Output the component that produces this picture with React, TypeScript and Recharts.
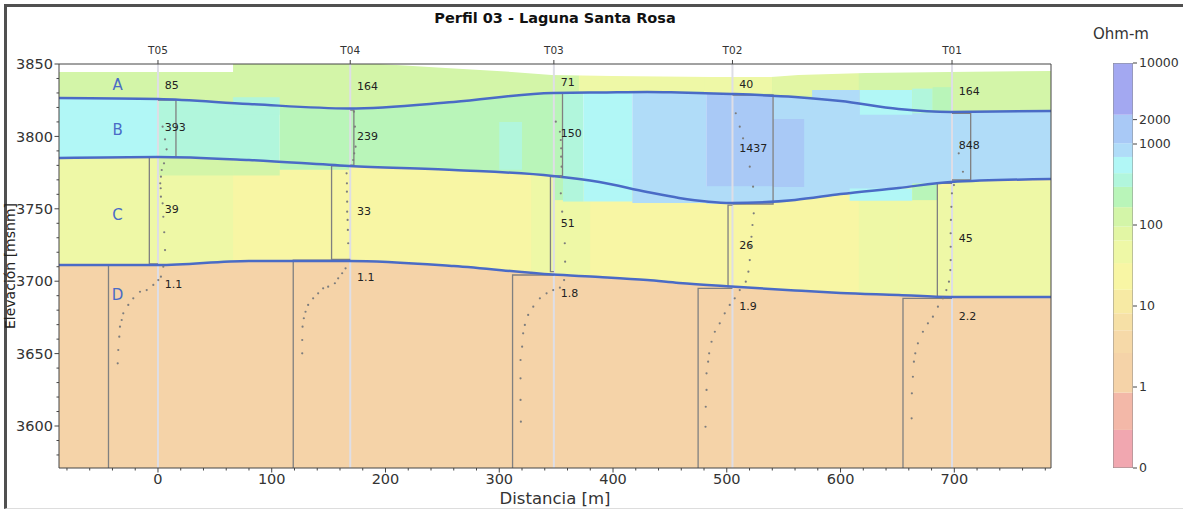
import { Area, ComposedChart, Line, ReferenceLine, Scatter, XAxis, YAxis } from "recharts";

const FONT = "'DejaVu Sans', sans-serif";
const INK = "#333";
const SPINE = "#444";
const BLUE = "#4a6bc6";

const X_MIN = -87;
const X_MAX = 785;
const Z_MIN = 3571;
const Z_MAX = 3850;

// soundings along the profile
const SOUNDINGS = ["T05", "T04", "T03", "T02", "T01"];
const SOUNDING_X = [0, 169, 348, 505, 698];

// layer resistivities (Ohm-m) per sounding
const RHO_A = [85, 164, 71, 40, 164];
const RHO_B = [393, 239, 150, 1437, 848];
const RHO_C = [39, 33, 51, 26, 45];
const RHO_D = [1.1, 1.1, 1.8, 1.9, 2.2];
const LABEL_Z_A = [3835.5, 3834.8, 3837.6, 3836.2, 3831.4];
const LABEL_Z_B = [3806.5, 3800, 3802.3, 3792, 3794.1];
const LABEL_Z_C = [3749.9, 3748.5, 3740.2, 3725, 3729.8];
const LABEL_Z_D = [3698.1, 3702.9, 3691.8, 3682.9, 3675.9];

const LAYERS = ["A", "B", "C", "D"];
const LAYER_Z = [3836, 3804.4, 3745.7, 3690.5];

// interpreted interfaces (elevation, m)
const DIST = [-87, 0, 80, 168, 260, 347, 388, 430, 458, 504, 560, 600, 651, 697, 785];
const Z_AB = [3826.5, 3825.8, 3822.4, 3819.3, 3823.8, 3830.0, 3830.3, 3830.7, 3830.3, 3829.3, 3827.2, 3824.4, 3818.9, 3816.9, 3817.5];
const Z_BC = [3785.1, 3785.8, 3783.7, 3779.6, 3776.8, 3772.7, 3768.5, 3761.6, 3757.5, 3754.0, 3756.1, 3760.2, 3764.4, 3768.5, 3770.6];
const Z_CD = [3711.2, 3711.2, 3714.0, 3714.0, 3710.5, 3704.6, 3702.9, 3700.8, 3698.8, 3696.3, 3693.6, 3691.9, 3690.5, 3689.1, 3689.1];

// ground surface
const SURF_X = [-87, 66, 66, 195, 253, 311, 346, 399, 487, 539, 563, 622, 695, 785];
const SURF_Z = [3844.5, 3844.5, 3850, 3850, 3847.2, 3844.5, 3842.4, 3841.7, 3841, 3841, 3842.4, 3843.8, 3844.5, 3845.2];

// 1D model boxes per sounding
const BOX_B_RIGHT = [15.8, 172.2, 355.6, 540.7, 714.4];
const BOX_B_TOP = [3825.1, 3818.2, 3829.8, 3828.6, 3816.0];
const BOX_B_BOT = [3786.0, 3780.2, 3772.7, 3753.3, 3769.9];
const BOX_C_LEFT = [-7.6, 152.6, 345.0, 501.1, 685.1];
const BOX_C_TOP = [3785.8, 3779.6, 3772.2, 3752.6, 3767.6];
const BOX_C_BOT = [3711.9, 3715.1, 3706.6, 3696.2, 3688.9];
const BOX_D_LEFT = [-43.5, 118.9, 311.7, 474.8, 654.9];
const BOX_D_TOP = [3711.2, 3714.6, 3704.3, 3695.1, 3688.2];

// apparent resistivity curves (distance, elevation)
const CURVE_T05 = [[4.1, 3806.7], [6.2, 3798], [7.6, 3791.1], [5.3, 3781.4], [3.3, 3776.8], [2.6, 3772.2], [2.0, 3767.6], [2.4, 3764.2], [2.6, 3758.4], [4.1, 3753.8], [4.7, 3744.5], [5.5, 3733.8], [6.2, 3721.5], [4.7, 3710], [2.6, 3703.1], [0.3, 3700.8], [-4.1, 3697.4], [-9.9, 3693.9], [-15.8, 3692.7], [-21.7, 3688.2], [-26.1, 3683.6], [-30.5, 3677.8], [-31.9, 3673.2], [-33.4, 3668.6], [-34, 3661.7], [-34.9, 3652.5], [-35.4, 3643.3]];
const CURVE_T04 = [[172.2, 3817.1], [173.1, 3806.7], [173.7, 3792.9], [172.5, 3788.3], [171.6, 3783.7], [165.8, 3774.5], [166.1, 3767.6], [166.1, 3761.8], [166.3, 3754.9], [166.3, 3748], [166.7, 3742.3], [166.9, 3735.4], [167.2, 3726.2], [164.9, 3708.9], [161.9, 3705.5], [158.4, 3702], [155.5, 3698.6], [149.6, 3696.2], [145.2, 3695.1], [140.8, 3691.6], [136.4, 3688.2], [132, 3683.6], [129.7, 3678.9], [128.2, 3674.4], [127.1, 3668.6], [126.8, 3659.4], [126.8, 3650.2]];
const CURVE_T03 = [[349.7, 3810.2], [353.3, 3803.2], [354.1, 3797.5], [354.4, 3791.8], [354.4, 3786], [354.8, 3779.1], [354.1, 3772.2], [354.1, 3760.7], [355.3, 3748], [357.6, 3726.2], [357.9, 3713.5], [357, 3700.8], [353.3, 3695.5], [347.4, 3693.9], [341.6, 3691.6], [335.7, 3688.2], [329.9, 3682.4], [325.4, 3676.7], [322.5, 3669.8], [321, 3664], [320.1, 3654.8], [318.7, 3645.6], [318.7, 3632.9], [318.7, 3618], [319, 3603]];
const CURVE_T02 = [[507.9, 3816], [511.4, 3806.7], [514.3, 3798.7], [520.2, 3779.1], [523.1, 3765.3], [523.7, 3746.9], [522.6, 3738.8], [521.7, 3730.7], [520.8, 3723.8], [520.2, 3714.6], [519, 3706.6], [516.7, 3699.7], [511.4, 3693.9], [507, 3688.2], [502.6, 3683.6], [498.2, 3677.8], [493.8, 3670.9], [489.5, 3665.1], [486.6, 3658.2], [484.5, 3650.2], [483.6, 3644.4], [482.2, 3636.4], [482.2, 3624.9], [481.5, 3613.3], [481.3, 3599.5]];
const CURVE_T01 = [[703.9, 3788.3], [707.6, 3775.6], [699.7, 3766.4], [697.9, 3760.7], [697.4, 3751.4], [697, 3742.3], [696.8, 3733.1], [696.8, 3723.8], [696.8, 3714.6], [696.5, 3707.7], [695.3, 3699.7], [693, 3693.9], [690, 3688.2], [685.6, 3682.4], [681.2, 3675.5], [676.8, 3670.9], [672.4, 3665.1], [668, 3657.1], [665.7, 3650.2], [664.5, 3644.4], [663.6, 3634], [662.7, 3622.6], [662.5, 3605.3]];
const CURVES = [CURVE_T05, CURVE_T04, CURVE_T03, CURVE_T02, CURVE_T01];

// resistivity image (Ohm-m)
const RHO_A_BASE = 120;
const RHO_C_BASE = 30;
const RHO_D_BASE = 1.5;
const B_COLUMNS = [
  [-87, 0, 520],
  [0, 107, 360],
  [107, 356, 220],
  [356, 374, 330],
  [374, 417, 520],
  [417, 482, 800],
  [482, 541, 1400],
  [541, 785, 850],
];
const A_PATCHES = [
  [370, 480, 3831.2, 3850, 50],
  [480, 540, 3829.6, 3850, 50],
  [540, 616, 3828.3, 3850, 80],
];
const C_PATCHES = [
  [-87, 66, 3712.5, 3784.5, 45],
  [328, 349, 3706, 3773.5, 45],
  [349, 380, 3704.7, 3760, 45],
  [616, 651, 3691.8, 3761.5, 45],
  [651, 697, 3690.8, 3764.5, 45],
  [697, 785, 3689.3, 3768.6, 45],
];
const B_PATCHES = [
  [0, 66, 3773, 3785, 130],
  [66, 107, 3773, 3783.3, 130],
  [107, 168, 3777, 3782.5, 220],
  [66, 107, 3815, 3827, 360],
  [300, 320, 3777, 3810, 330],
  [348, 356, 3756, 3773, 220],
  [356, 374, 3755, 3772, 330],
  [374, 417, 3755, 3770, 520],
  [417, 482, 3754, 3764.5, 800],
  [482, 541, 3753.5, 3765.5, 800],
  [541, 568, 3765, 3812, 1400],
  [575, 617, 3818, 3832, 800],
  [617, 663, 3815, 3832, 520],
  [663, 681, 3816, 3833, 330],
  [681, 698, 3816.5, 3834, 220],
  [608, 663, 3755.5, 3764, 520],
  [663, 685, 3756, 3767.5, 220],
];

// colour bar: log10 edges and colours
const CBAR_EDGES = [-1, -0.53, -0.07, 0.42, 0.7, 0.91, 1.2, 1.53, 1.81, 1.98, 2.22, 2.47, 2.64, 2.84, 3.01, 3.36, 4];
const CBAR_COLORS = [
  "#f1a7b0", "#f3b8a8", "#f5d3a8", "#f6d9a8", "#f6e0a6", "#f7eaa4", "#f8f6a4", "#eef8a6",
  "#e2f6a4", "#d3f5a8", "#b9f5b9", "#b1f6dc", "#b1f7f6", "#b0dcf8", "#a9c9f6", "#a3a8f1",
];
const CBAR_TICKS = [0.1, 1, 10, 100, 1000, 2000, 10000];
const CBAR_LABELS = ["0", "1", "10", "100", "1000", "2000", "10000"];

const X_MAJOR = [0, 100, 200, 300, 400, 500, 600, 700];
const X_TICKS = Array.from({ length: 44 }, (_, i) => -80 + i * 20);
const Z_TICKS = Array.from({ length: 28 }, (_, i) => 3580 + i * 10);

function colorFor(rho: number) {
  const u = Math.log10(rho);
  for (let i = 0; i < CBAR_COLORS.length; i++) {
    if (u < CBAR_EDGES[i + 1]) return CBAR_COLORS[i];
  }
  return CBAR_COLORS[CBAR_COLORS.length - 1];
}

const rect = (x1: number, x2: number, lo: number, hi: number) => [
  { x: x1, r: [lo, hi] },
  { x: x2, r: [lo, hi] },
];

function fill(key: string, data: any[], color: string, type: any = "linear") {
  return (
    <Area
      key={key}
      data={data}
      dataKey="r"
      type={type}
      fill={color}
      fillOpacity={1}
      stroke="none"
      dot={false}
      activeDot={false}
      isAnimationActive={false}
    />
  );
}

function path(key: string, data: any[], stroke: string, width: number, type: any = "linear", xAxisId: any = 0) {
  return (
    <Line
      key={key}
      xAxisId={xAxisId}
      data={data}
      dataKey="y"
      type={type}
      stroke={stroke}
      strokeWidth={width}
      dot={false}
      activeDot={false}
      isAnimationActive={false}
    />
  );
}

function XTick({ x, y, payload }: any) {
  const major = X_MAJOR.includes(payload.value);
  return (
    <g>
      <line x1={x} x2={x} y1={y} y2={y + (major ? 4.5 : 2.5)} stroke={SPINE} />
      {major && (
        <text x={x} y={y + 16} textAnchor="middle" fontSize={14.5} fontFamily={FONT} fill={INK}>
          {payload.value}
        </text>
      )}
    </g>
  );
}

function YTick({ x, y, payload }: any) {
  const major = payload.value % 50 === 0;
  return (
    <g>
      <line x1={x - (major ? 4.5 : 2.5)} x2={x} y1={y} y2={y} stroke={SPINE} />
      {major && (
        <text x={x - 6} y={y} dy="0.36em" textAnchor="end" fontSize={14.5} fontFamily={FONT} fill={INK}>
          {payload.value}
        </text>
      )}
    </g>
  );
}

const dotShape = (p: any) => <circle cx={p.cx} cy={p.cy} r={1.1} fill="#7d7d7d" />;
const numShape = (p: any) => (
  <text x={p.cx} y={p.cy} dy="0.36em" fontSize={11} fontFamily={FONT} fill="#222">
    {p.payload.text}
  </text>
);
const letterShape = (p: any) => (
  <text x={p.cx} y={p.cy} dy="0.36em" textAnchor="middle" fontSize={15} fontFamily={FONT} fill={BLUE}>
    {p.payload.text}
  </text>
);

function Section() {
  const layerA = DIST.map((x, i) => ({ x, r: [Z_AB[i], Z_MAX] }));
  const layerC = DIST.map((x, i) => ({ x, r: [Z_CD[i], Z_BC[i]] }));
  const layerD = DIST.map((x, i) => ({ x, r: [Z_MIN, Z_CD[i]] }));
  const sky = SURF_X.map((x, i) => ({ x, r: [SURF_Z[i], Z_MAX] }));
  const line = (z: number[]) => DIST.map((x, i) => ({ x, y: z[i] }));

  const numbers = SOUNDING_X.flatMap((sx, i) => [
    { x: sx + 6, y: LABEL_Z_A[i], text: String(RHO_A[i]) },
    { x: sx + 6, y: LABEL_Z_B[i], text: String(RHO_B[i]) },
    { x: sx + 6, y: LABEL_Z_C[i], text: String(RHO_C[i]) },
    { x: sx + 6, y: LABEL_Z_D[i], text: String(RHO_D[i]) },
  ]);
  const letters = LAYERS.map((text, i) => ({ x: -35.5, y: LAYER_Z[i], text }));

  return (
    <ComposedChart width={1060} height={512} margin={{ top: 0, right: 9, bottom: 0, left: 0 }}>
      <XAxis
        type="number"
        dataKey="x"
        domain={[X_MIN, X_MAX]}
        allowDataOverflow
        ticks={X_TICKS}
        interval={0}
        height={44}
        tickSize={0}
        tickMargin={0}
        tickLine={false}
        tick={<XTick />}
        axisLine={{ stroke: SPINE }}
        label={{ value: "Distancia [m]", position: "insideBottom", offset: 8, fontSize: 16.5, fontFamily: FONT, fill: INK }}
      />
      <XAxis
        xAxisId="top"
        orientation="top"
        type="number"
        dataKey="x"
        domain={[X_MIN, X_MAX]}
        allowDataOverflow
        ticks={SOUNDING_X}
        interval={0}
        height={64}
        tickSize={4}
        tickMargin={6}
        tickFormatter={(v) => SOUNDINGS[SOUNDING_X.indexOf(v)]}
        tick={{ fill: INK, fontSize: 10.5, fontFamily: FONT }}
        tickLine={{ stroke: SPINE }}
        axisLine={{ stroke: SPINE }}
      />
      <YAxis
        type="number"
        dataKey="y"
        domain={[Z_MIN, Z_MAX]}
        allowDataOverflow
        ticks={Z_TICKS}
        interval={0}
        width={59}
        tickSize={0}
        tickMargin={0}
        tickLine={false}
        tick={<YTick />}
        axisLine={{ stroke: SPINE }}
        label={{
          value: "Elevación [msnm]",
          angle: -90,
          position: "insideLeft",
          offset: 10,
          fontSize: 14,
          fontFamily: FONT,
          fill: "#222",
          style: { textAnchor: "middle" },
        }}
      />

      {B_COLUMNS.map(([x1, x2, rho], i) => fill(`bc${i}`, rect(x1, x2, 3745, 3840), colorFor(rho)))}
      {fill("layerA", layerA, colorFor(RHO_A_BASE), "monotone")}
      {fill("layerC", layerC, colorFor(RHO_C_BASE), "monotone")}
      {A_PATCHES.map(([x1, x2, lo, hi, rho], i) => fill(`ap${i}`, rect(x1, x2, lo, hi), colorFor(rho)))}
      {C_PATCHES.map(([x1, x2, lo, hi, rho], i) => fill(`cp${i}`, rect(x1, x2, lo, hi), colorFor(rho)))}
      {fill("layerD", layerD, colorFor(RHO_D_BASE), "monotone")}
      {B_PATCHES.map(([x1, x2, lo, hi, rho], i) => fill(`bp${i}`, rect(x1, x2, lo, hi), colorFor(rho)))}
      {fill("sky", sky, "#ffffff")}

      {SOUNDING_X.map((sx, i) =>
        path(`t${i}`, [{ x: sx, y: Z_MIN }, { x: sx, y: Z_MAX }], "#dedee6", 2, "linear", "top")
      )}
      {SOUNDING_X.map((sx, i) =>
        path(
          `bb${i}`,
          [
            { x: sx, y: BOX_B_TOP[i] },
            { x: BOX_B_RIGHT[i], y: BOX_B_TOP[i] },
            { x: BOX_B_RIGHT[i], y: BOX_B_BOT[i] },
            { x: sx, y: BOX_B_BOT[i] },
          ],
          "#808080",
          1.3
        )
      )}
      {SOUNDING_X.map((sx, i) =>
        path(
          `cb${i}`,
          [
            { x: sx, y: BOX_C_TOP[i] },
            { x: BOX_C_LEFT[i], y: BOX_C_TOP[i] },
            { x: BOX_C_LEFT[i], y: BOX_C_BOT[i] },
            { x: sx, y: BOX_C_BOT[i] },
          ],
          "#808080",
          1.3
        )
      )}
      {SOUNDING_X.map((sx, i) =>
        path(
          `db${i}`,
          [
            { x: sx, y: BOX_D_TOP[i] },
            { x: BOX_D_LEFT[i], y: BOX_D_TOP[i] },
            { x: BOX_D_LEFT[i], y: Z_MIN },
          ],
          "#808080",
          1.3
        )
      )}

      {path("ab", line(Z_AB), BLUE, 2.5, "monotone")}
      {path("bc", line(Z_BC), BLUE, 2.5, "monotone")}
      {path("cd", line(Z_CD), BLUE, 2.5, "monotone")}
      <ReferenceLine x={X_MAX} stroke={SPINE} />

      {CURVES.map((c, i) => (
        <Scatter
          key={`dots${i}`}
          data={c.map(([x, y]) => ({ x, y }))}
          dataKey="y"
          shape={dotShape}
          isAnimationActive={false}
        />
      ))}
      <Scatter data={numbers} dataKey="y" shape={numShape} isAnimationActive={false} />
      <Scatter data={letters} dataKey="y" shape={letterShape} isAnimationActive={false} />
    </ComposedChart>
  );
}

function ColorBar() {
  const u = (v: number) => Math.log10(v);
  return (
    <ComposedChart width={83} height={512} margin={{ top: 63, right: 0, bottom: 44, left: 13 }}>
      <XAxis type="number" dataKey="x" domain={[0, 1]} allowDataOverflow hide />
      <YAxis
        orientation="right"
        type="number"
        dataKey="y"
        domain={[-1, 4]}
        allowDataOverflow
        ticks={CBAR_TICKS.map(u)}
        interval={0}
        width={50}
        tickSize={4}
        tickMargin={2}
        axisLine={false}
        tickLine={{ stroke: SPINE }}
        tick={{ fill: INK, fontSize: 12.5, fontFamily: FONT }}
        tickFormatter={(v) => CBAR_LABELS[CBAR_TICKS.findIndex((t) => Math.abs(u(t) - v) < 1e-6)]}
      />
      {CBAR_COLORS.map((c, i) => fill(`cb${i}`, rect(0, 1, CBAR_EDGES[i], CBAR_EDGES[i + 1]), c))}
      {path(
        "outline",
        [
          { x: 0, y: -1 },
          { x: 1, y: -1 },
          { x: 1, y: 4 },
          { x: 0, y: 4 },
          { x: 0, y: -1 },
        ],
        "#8a8a8a",
        1
      )}
    </ComposedChart>
  );
}

export default function App() {
  return (
    <div
      style={{
        position: "absolute",
        left: 0,
        top: 0,
        width: 1183,
        height: 512,
        overflow: "hidden",
        background: "#fff",
        fontFamily: FONT,
      }}
    >
      <div
        style={{
          position: "absolute",
          left: 4,
          top: 4,
          width: 1200,
          height: 505,
          borderLeft: "3px solid #505050",
          borderTop: "3px solid #505050",
          borderBottom: "1px solid #ddd",
          boxSizing: "border-box",
        }}
      />
      <div style={{ position: "absolute", left: 0, top: 0 }}>
        <Section />
      </div>
      <div
        style={{
          position: "absolute",
          left: 355,
          top: 11,
          width: 400,
          textAlign: "center",
          fontSize: 14.5,
          lineHeight: "14.5px",
          fontWeight: "bold",
          color: "#111",
        }}
      >
        Perfil 03 - Laguna Santa Rosa
      </div>
      <div
        style={{
          position: "absolute",
          left: 1071,
          top: 27,
          width: 100,
          textAlign: "center",
          fontSize: 15,
          lineHeight: "15px",
          color: INK,
        }}
      >
        Ohm-m
      </div>
      <div style={{ position: "absolute", left: 1100, top: 0 }}>
        <ColorBar />
      </div>
    </div>
  );
}
